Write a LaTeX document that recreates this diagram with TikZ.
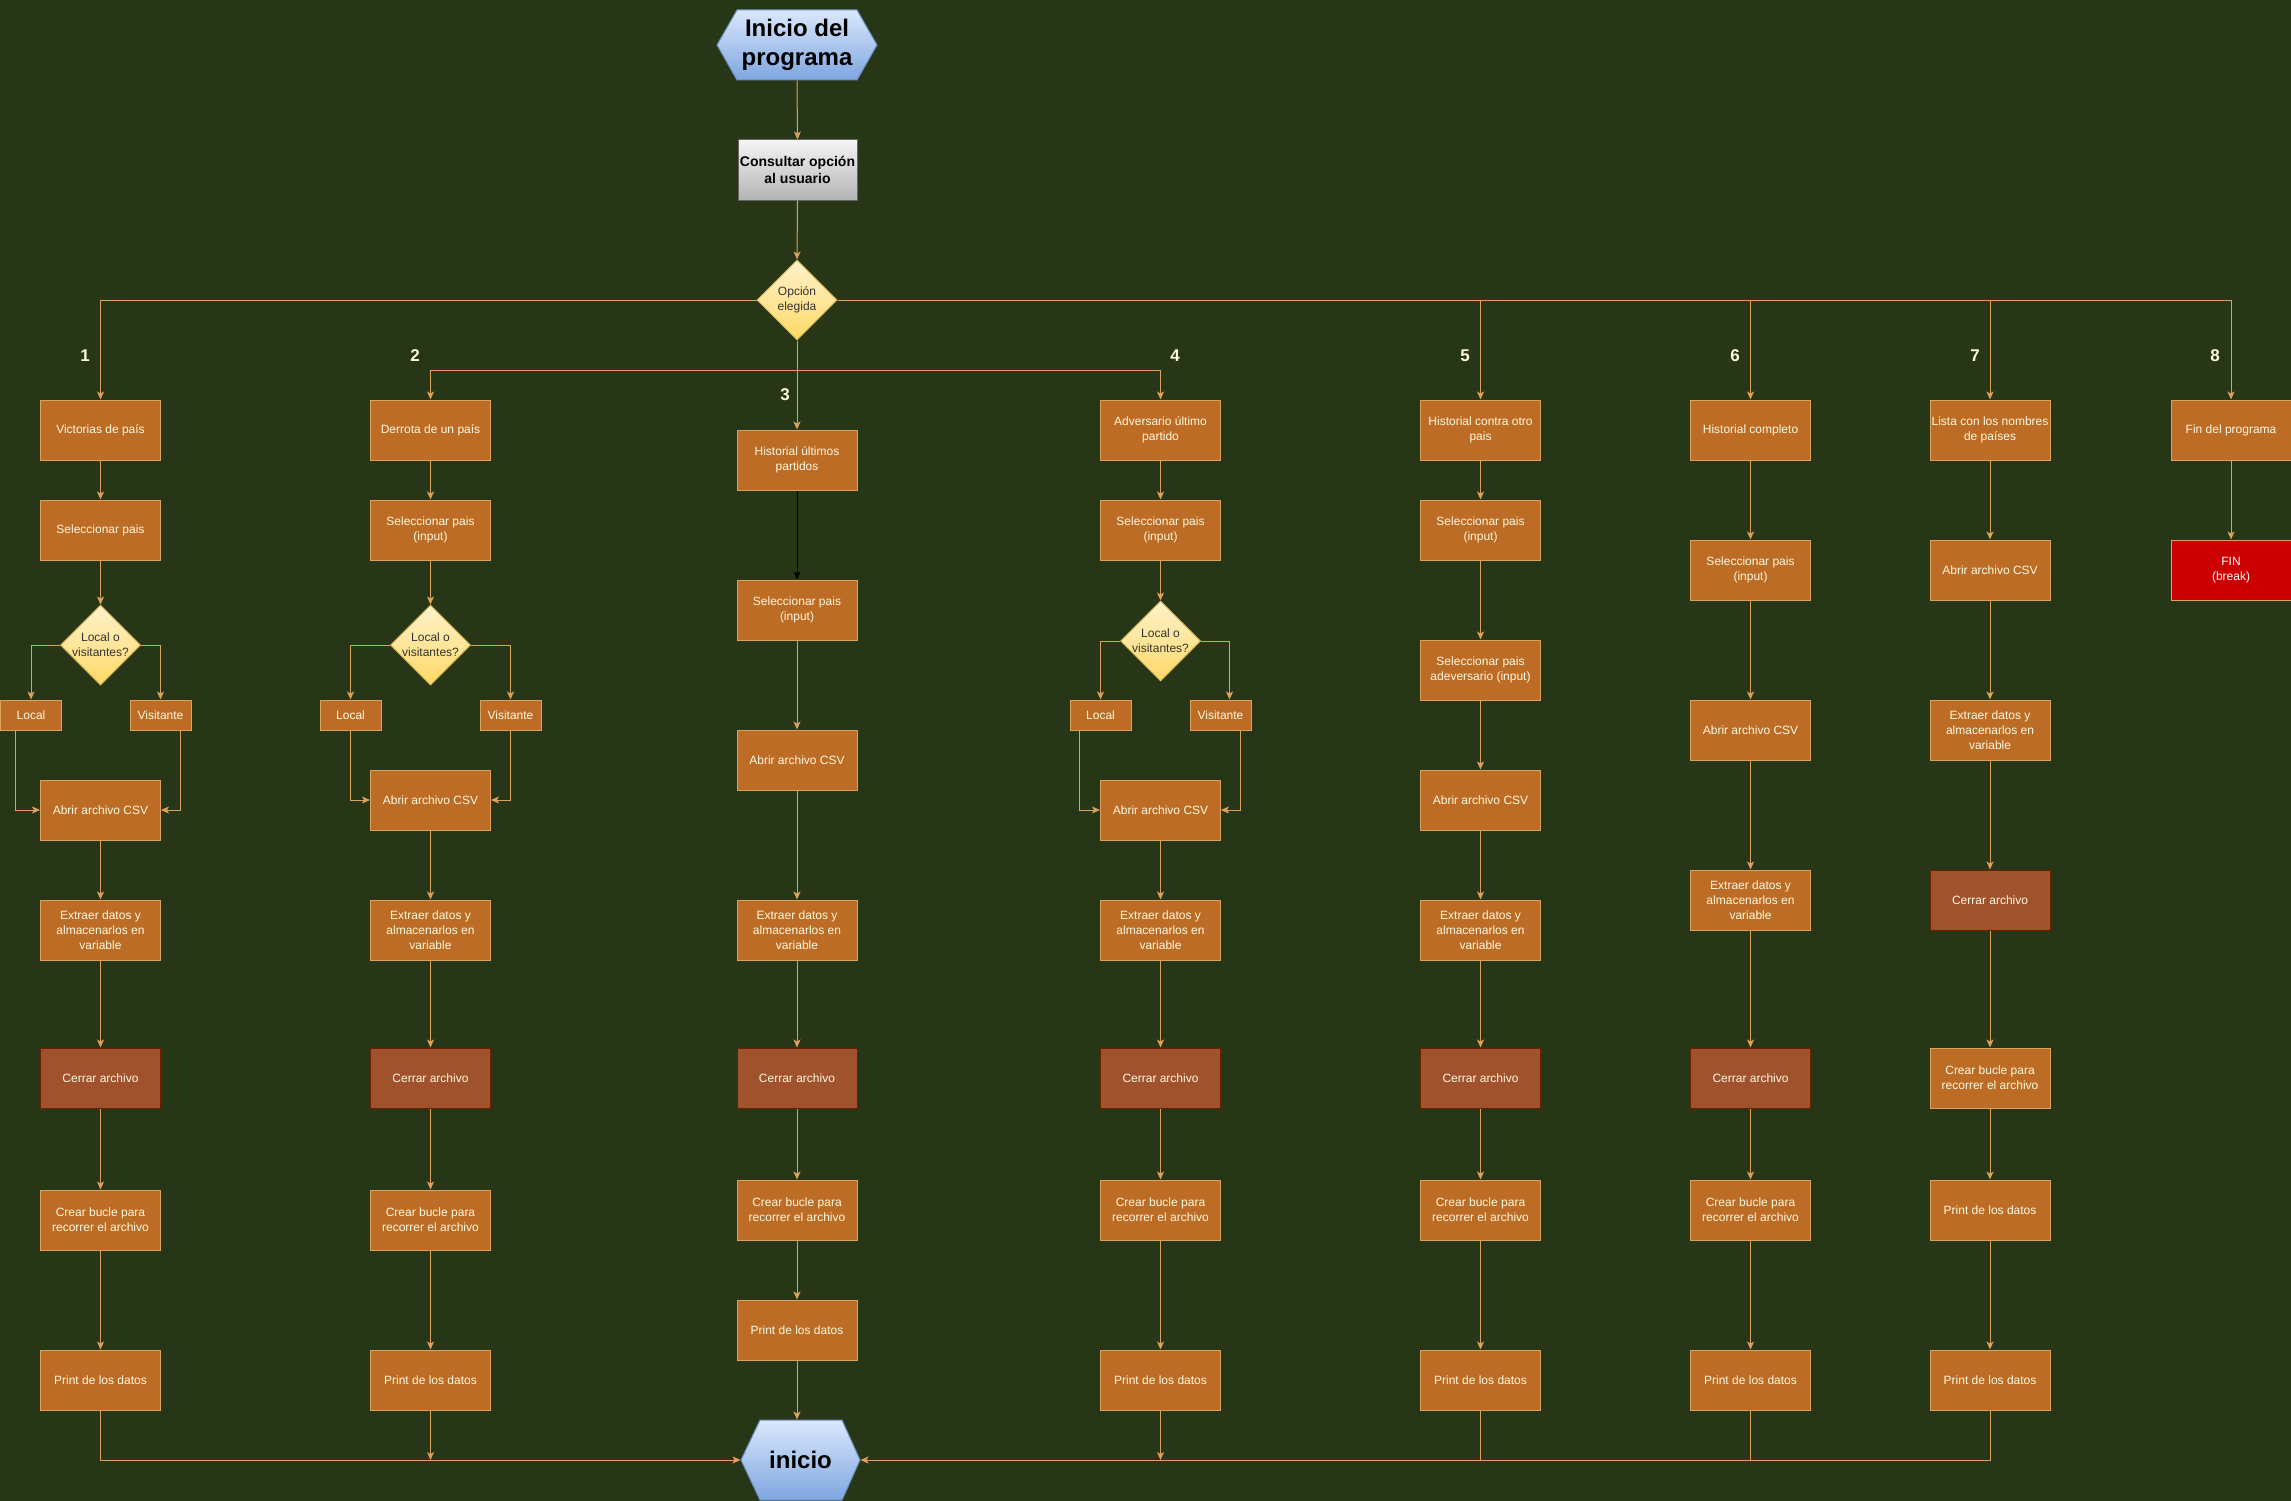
\documentclass[tikz,border=0pt]{standalone}
\usepackage{fontspec}
\setmainfont{Liberation Sans}
\usetikzlibrary{shapes.geometric,arrows.meta,calc}
\definecolor{bg}{HTML}{283618}
\definecolor{corange}{HTML}{BC6C25}
\definecolor{cline}{HTML}{DDA15E}
\definecolor{ctext}{HTML}{FEFAE0}
\definecolor{cclose}{HTML}{A0522D}
\definecolor{cclosed}{HTML}{6D1F00}
\definecolor{cred}{HTML}{CC0000}
\definecolor{hexa}{HTML}{DAE8FC}
\definecolor{hexb}{HTML}{7EA6E0}
\definecolor{hexs}{HTML}{6C8EBF}
\definecolor{diaa}{HTML}{FFF2CC}
\definecolor{diab}{HTML}{FFD966}
\definecolor{dias}{HTML}{D6B656}
\definecolor{graya}{HTML}{F5F5F5}
\definecolor{grayb}{HTML}{B3B3B3}
\definecolor{grays}{HTML}{666666}
\definecolor{cdark}{HTML}{333333}
\begin{document}
\begin{tikzpicture}[x=1pt,y=-1pt,line width=1pt,
  box/.style={rectangle, draw=cline, fill=corange, text=ctext, minimum width=120, minimum height=60, align=center, inner sep=1, font=\fontsize{12}{15}\selectfont},
  closebox/.style={box, fill=cclose, draw=cclosed},
  finbox/.style={box, fill=cred, text=white},
  smallbox/.style={box, minimum width=61, minimum height=30},
  dia/.style={diamond, aspect=1, minimum width=80, minimum height=80, inner sep=0, draw=dias, top color=diaa, bottom color=diab},
  diatext/.style={align=center, text=cdark, font=\fontsize{12}{15}\selectfont, inner sep=0},
  hexlabel/.style={align=center, text=black, font=\fontsize{24}{29}\selectfont\bfseries, inner sep=0},
  arr/.style={draw=cline, -{Stealth[length=8pt,width=7pt,inset=2pt]}},
  con/.style={draw=cline},
  num/.style={text=ctext, font=\fontsize{17}{20}\selectfont\bfseries, inner sep=0},
]
\fill[bg] (0,0) rectangle (2291,1501);
\useasboundingbox (0,0) rectangle (2291,1501);

% ---- top part
\shade[top color=hexa, bottom color=hexb, draw=hexs] (717,45) -- (737,10) -- (857,10) -- (877,45) -- (857,80) -- (737,80) -- cycle;
\node[hexlabel, minimum width=160, minimum height=70] (ini) at (797,45) {Inicio del\\programa};
\node[rectangle, draw=grays, top color=graya, bottom color=grayb, minimum width=119, minimum height=60, align=center, inner sep=1, font=\fontsize{14}{17}\selectfont\bfseries] (cons) at (797.5,170) {Consultar opción\\al usuario};
\node[dia] (opc) at (797,300) {};
\node[diatext] (opct) at (opc) {Opción\\elegida};

% ---- numbers
\node[num] (n1) at (85,356) {1};
\node[num] (n2) at (415,356) {2};
\node[num] (n3) at (785,395) {3};
\node[num] (n4) at (1175,356) {4};
\node[num] (n5) at (1465,356) {5};
\node[num] (n6) at (1735,356) {6};
\node[num] (n7) at (1975,356) {7};
\node[num] (n8) at (2215,356) {8};

% ---- column 1
\node[box] (t1) at (100.5,430) {Victorias de país};
\node[box] (s1) at (100.5,530) {Seleccionar pais};
\node[dia] (d1) at (100.5,645) {};
\node[diatext] (d1t) at (d1) {Local o\\visitantes?};
\node[smallbox] (l1) at (31,715) {Local};
\node[smallbox] (v1) at (160.5,715) {Visitante};
\node[box] (a1) at (100.5,810) {Abrir archivo CSV};
\node[box] (e1) at (100.5,930) {Extraer datos y\\almacenarlos en\\variable};
\node[closebox] (c1) at (100.5,1078) {Cerrar archivo};
\node[box] (b1) at (100.5,1220) {Crear bucle para\\recorrer el archivo};
\node[box] (p1) at (100.5,1380) {Print de los datos};

% ---- column 2
\node[box] (t2) at (430.5,430) {Derrota de un país};
\node[box] (s2) at (430.5,530) {Seleccionar pais\\(input)};
\node[dia] (d2) at (430.5,645) {};
\node[diatext] (d2t) at (d2) {Local o\\visitantes?};
\node[smallbox] (l2) at (350.5,715) {Local};
\node[smallbox] (v2) at (510.5,715) {Visitante};
\node[box] (a2) at (430.5,800) {Abrir archivo CSV};
\node[box] (e2) at (430.5,930) {Extraer datos y\\almacenarlos en\\variable};
\node[closebox] (c2) at (430.5,1078) {Cerrar archivo};
\node[box] (b2) at (430.5,1220) {Crear bucle para\\recorrer el archivo};
\node[box] (p2) at (430.5,1380) {Print de los datos};

% ---- column 3
\node[box] (h3) at (797,460) {Historial últimos\\partidos};
\node[box] (s3) at (797,610) {Seleccionar pais\\(input)};
\node[box] (a3) at (797,760) {Abrir archivo CSV};
\node[box] (e3) at (797,930) {Extraer datos y\\almacenarlos en\\variable};
\node[closebox] (c3) at (797,1078) {Cerrar archivo};
\node[box] (b3) at (797,1210) {Crear bucle para\\recorrer el archivo};
\node[box] (p3) at (797,1330) {Print de los datos};

% ---- column 4
\node[box] (t4) at (1160.5,430) {Adversario último\\partido};
\node[box] (s4) at (1160.5,530) {Seleccionar pais\\(input)};
\node[dia] (d4) at (1160.5,641) {};
\node[diatext] (d4t) at (d4) {Local o\\visitantes?};
\node[smallbox] (l4) at (1100.5,715) {Local};
\node[smallbox] (v4) at (1220.5,715) {Visitante};
\node[box] (a4) at (1160.5,810) {Abrir archivo CSV};
\node[box] (e4) at (1160.5,930) {Extraer datos y\\almacenarlos en\\variable};
\node[closebox] (c4) at (1160.5,1078) {Cerrar archivo};
\node[box] (b4) at (1160.5,1210) {Crear bucle para\\recorrer el archivo};
\node[box] (p4) at (1160.5,1380) {Print de los datos};

% ---- column 5
\node[box] (t5) at (1480.5,430) {Historial contra otro\\pais};
\node[box] (s5) at (1480.5,530) {Seleccionar pais\\(input)};
\node[box] (q5) at (1480.5,670) {Seleccionar pais\\adeversario (input)};
\node[box] (a5) at (1480.5,800) {Abrir archivo CSV};
\node[box] (e5) at (1480.5,930) {Extraer datos y\\almacenarlos en\\variable};
\node[closebox] (c5) at (1480.5,1078) {Cerrar archivo};
\node[box] (b5) at (1480.5,1210) {Crear bucle para\\recorrer el archivo};
\node[box] (p5) at (1480.5,1380) {Print de los datos};

% ---- column 6
\node[box] (t6) at (1750.5,430) {Historial completo};
\node[box] (s6) at (1750.5,570) {Seleccionar pais\\(input)};
\node[box] (a6) at (1750.5,730) {Abrir archivo CSV};
\node[box] (e6) at (1750.5,900) {Extraer datos y\\almacenarlos en\\variable};
\node[closebox] (c6) at (1750.5,1078) {Cerrar archivo};
\node[box] (b6) at (1750.5,1210) {Crear bucle para\\recorrer el archivo};
\node[box] (p6) at (1750.5,1380) {Print de los datos};

% ---- column 7
\node[box] (t7) at (1990,430) {Lista con los nombres\\de países};
\node[box] (a7) at (1990,570) {Abrir archivo CSV};
\node[box] (e7) at (1990,730) {Extraer datos y\\almacenarlos en\\variable};
\node[closebox] (c7) at (1990,900) {Cerrar archivo};
\node[box] (b7) at (1990,1078) {Crear bucle para\\recorrer el archivo};
\node[box] (p7) at (1990,1210) {Print de los datos};
\node[box] (r7) at (1990,1380) {Print de los datos};

% ---- column 8
\node[box] (t8) at (2231,430) {Fin del programa};
\node[finbox] (f8) at (2231,570) {FIN\\(break)};

% ---- bottom hexagon
\shade[top color=hexa, bottom color=hexb, draw=hexs] (741,1460) -- (760,1420) -- (842,1420) -- (860,1460) -- (842,1500) -- (760,1500) -- cycle;
\node[hexlabel, minimum width=119, minimum height=80] (fin) at (800.5,1460) {inicio};

% ---- connectors: top
\draw[arr] (ini.south) -- (cons.north);
\draw[arr] (cons.south) -- (opc.north);
\draw[arr] (opc.west) -| (t1.north);
\draw[arr] (opc.east) -| (t8.north);
\draw[arr] (t5.north |- opc.east) -- (t5.north);
\draw[arr] (t6.north |- opc.east) -- (t6.north);
\draw[arr] (t7.north |- opc.east) -- (t7.north);
\draw[arr] (opc.south) -- (h3.north);
\coordinate (j3) at (797,370);
\draw[arr] (j3) -| (t2.north);
\draw[arr] (j3) -| (t4.north);

% ---- column 1
\draw[arr] (t1) -- (s1);
\draw[arr] (s1) -- (d1);
\draw[arr] (d1.west) -| (l1.north);
\draw[arr] (d1.east) -| (v1.north);
\draw[arr] ([xshift=-16]l1.south) |- (a1.west);
\draw[arr] ([xshift=19.5]v1.south) |- (a1.east);
\draw[arr] (a1) -- (e1);
\draw[arr] (e1) -- (c1);
\draw[arr] (c1) -- (b1);
\draw[arr] (b1) -- (p1);
\draw[arr] (p1.south) |- (fin.west);

% ---- column 2
\draw[arr] (t2) -- (s2);
\draw[arr] (s2) -- (d2);
\draw[arr] (d2.west) -| (l2.north);
\draw[arr] (d2.east) -| (v2.north);
\draw[arr] (l2.south) |- (a2.west);
\draw[arr] (v2.south) |- (a2.east);
\draw[arr] (a2) -- (e2);
\draw[arr] (e2) -- (c2);
\draw[arr] (c2) -- (b2);
\draw[arr] (b2) -- (p2);
\draw[arr] (p2.south) -- (p2.south |- fin.west);

% ---- column 3
\draw[arr, draw=black] (h3) -- (s3);
\draw[arr] (s3) -- (a3);
\draw[arr] (a3) -- (e3);
\draw[arr] (e3) -- (c3);
\draw[arr] (c3) -- (b3);
\draw[arr] (b3) -- (p3);
\draw[arr] (p3.south) -- (p3.south |- fin.north);

% ---- column 4
\draw[arr] (t4) -- (s4);
\draw[arr] (s4) -- (d4);
\draw[arr] (d4.west) -| (l4.north);
\draw[arr] (d4.east) -| ([xshift=9]v4.north);
\draw[arr] ([xshift=-21]l4.south) |- (a4.west);
\draw[arr] ([xshift=19.5]v4.south) |- (a4.east);
\draw[arr] (a4) -- (e4);
\draw[arr] (e4) -- (c4);
\draw[arr] (c4) -- (b4);
\draw[arr] (b4) -- (p4);
\draw[arr] (p4.south) -- (p4.south |- fin.west);

% ---- column 5
\draw[arr] (t5) -- (s5);
\draw[arr] (s5) -- (q5);
\draw[arr] (q5) -- (a5);
\draw[arr] (a5) -- (e5);
\draw[arr] (e5) -- (c5);
\draw[arr] (c5) -- (b5);
\draw[arr] (b5) -- (p5);
\draw[con] (p5.south) -- (p5.south |- fin.west);

% ---- column 6
\draw[arr] (t6) -- (s6);
\draw[arr] (s6) -- (a6);
\draw[arr] (a6) -- (e6);
\draw[arr] (e6) -- (c6);
\draw[arr] (c6) -- (b6);
\draw[arr] (b6) -- (p6);
\draw[con] (p6.south) -- (p6.south |- fin.west);

% ---- column 7
\draw[arr] (t7) -- (a7);
\draw[arr] (a7) -- (e7);
\draw[arr] (e7) -- (c7);
\draw[arr] (c7) -- (b7);
\draw[arr] (b7) -- (p7);
\draw[arr] (p7) -- (r7);
\draw[arr] (r7.south) |- (fin.east);

% ---- column 8
\draw[arr] (t8) -- (f8);
\end{tikzpicture}
\end{document}
